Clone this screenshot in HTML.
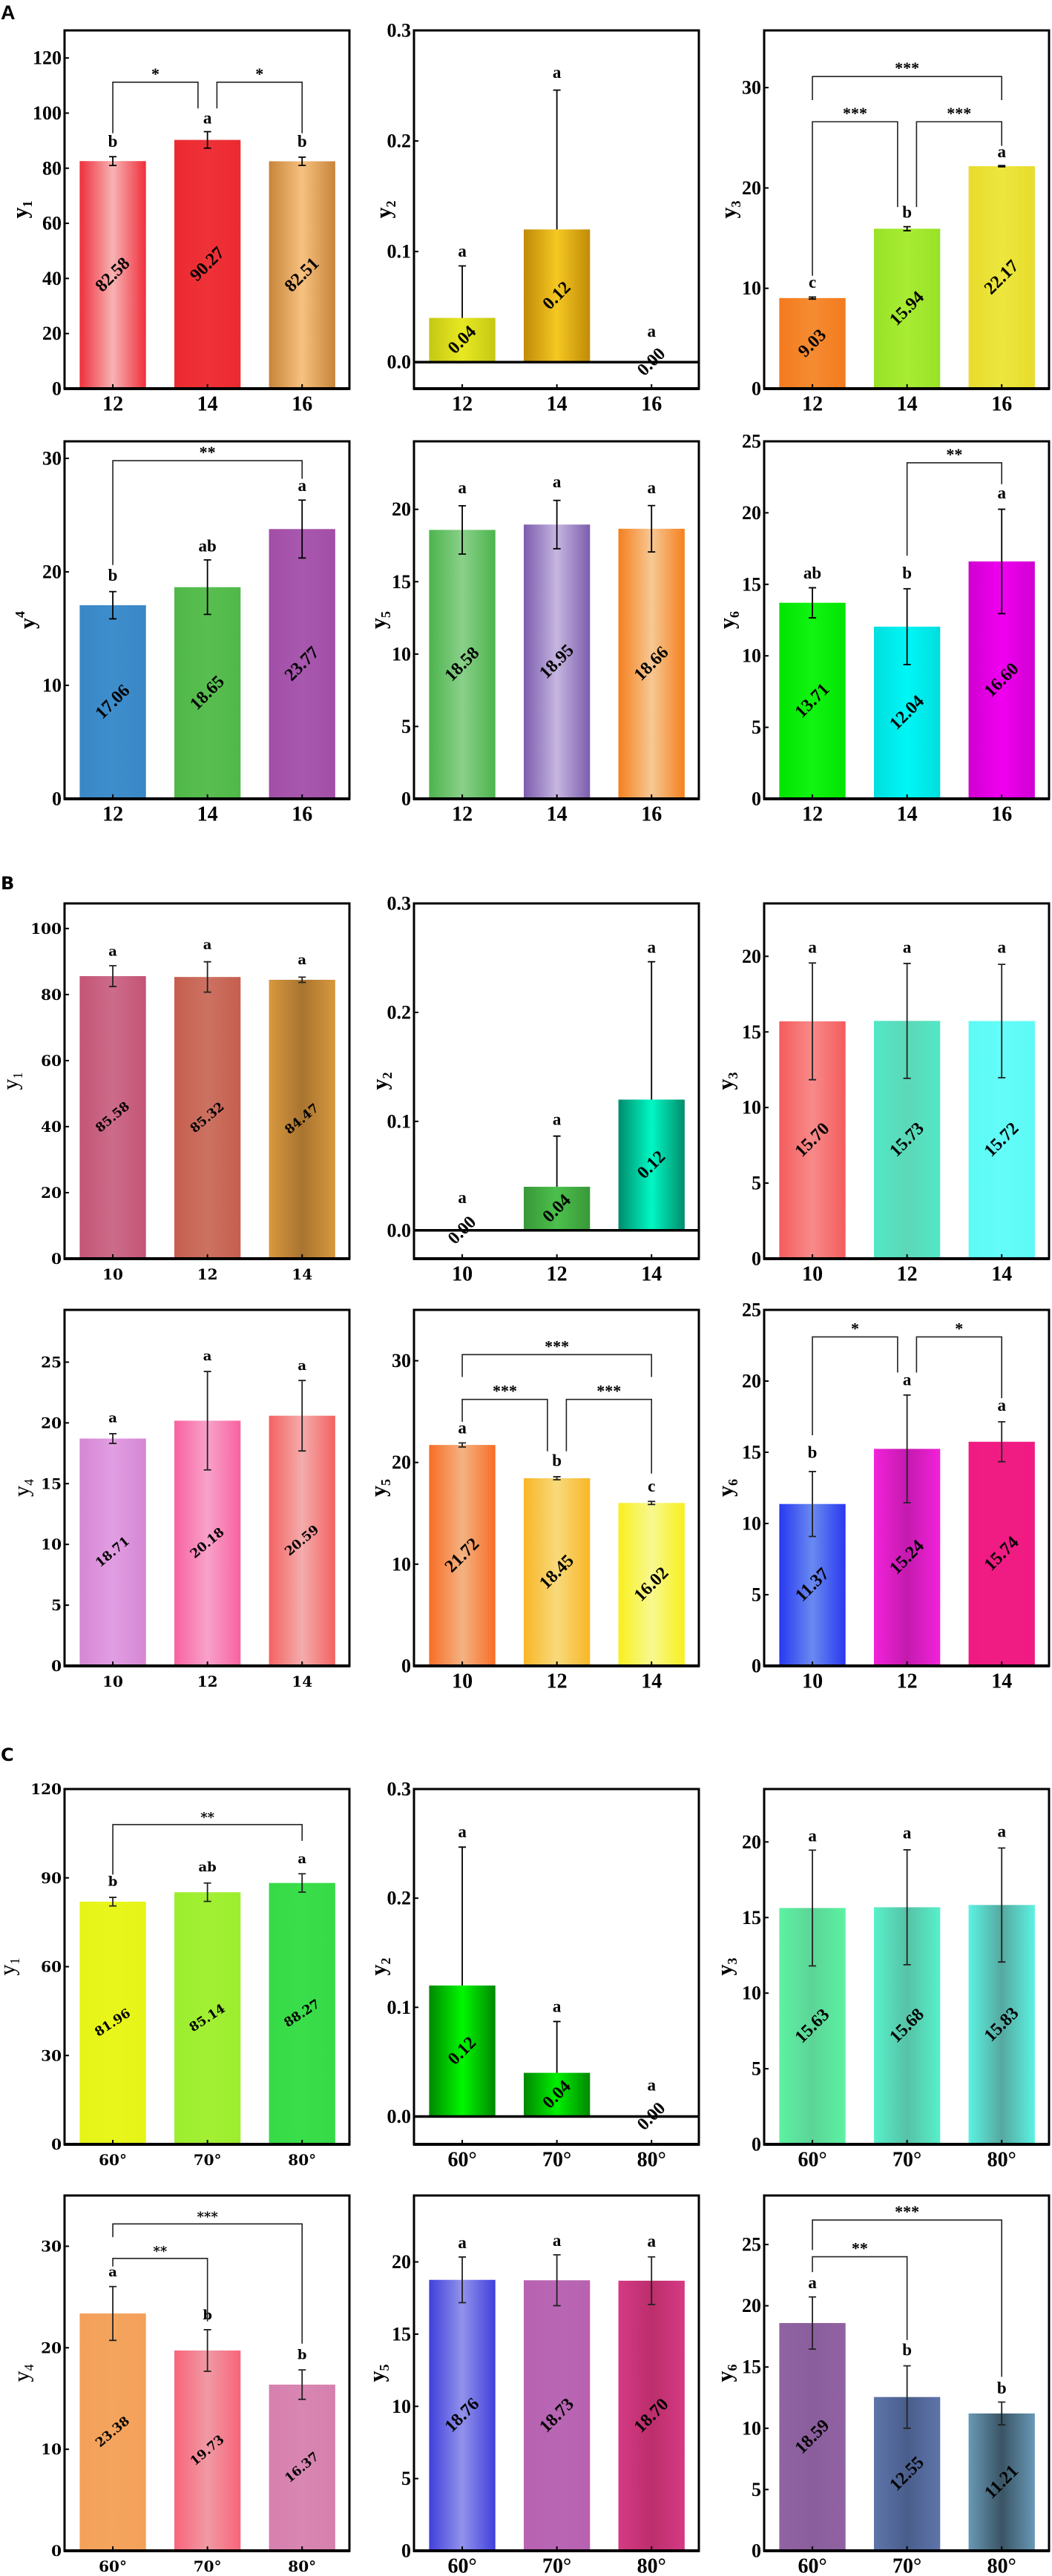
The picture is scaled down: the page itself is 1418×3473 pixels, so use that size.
<!DOCTYPE html>
<html><head><meta charset="utf-8"><style>
html,body{margin:0;padding:0;background:#fff;}
svg{display:block;}
text{font-family:'Liberation Serif',serif;}
</style></head><body>
<svg id="fig" xmlns="http://www.w3.org/2000/svg" width="1418" height="3473" viewBox="0 0 1418 3473">
<defs id="defs"></defs>
<text x="1" y="26" style="font-family:'Liberation Sans',sans-serif;font-weight:bold;font-size:27px">A</text>
<text x="1" y="1199" style="font-family:'DejaVu Sans',sans-serif;font-weight:bold;font-size:24px">B</text>
<text x="1" y="2374" style="font-family:'DejaVu Sans',sans-serif;font-weight:bold;font-size:24px">C</text>
</svg>
<script>
const catsA = ['12','14','16'];
const catsB = ['10','12','14'];
const catsC = ['60°','70°','80°'];

const a1Vals = [82.58, 90.27, 82.51];
const a1Errs = [1.6, 3.0, 1.5];
const a1Letters = ['b','a','b'];
const a1LetterY = [89.7, 98.2, 89.7];
const a1Brackets = [[0,1,111.2,92.7,101.7,'*'],[1,2,111.2,101.7,92.7,'*']];
const a1Ticks = [0,20,40,60,80,100,120];
const a1Domain = [0,130];

const a2Vals = [0.04, 0.12, 0.00];
const a2Errs = [0.047, 0.126, 0];
const a2Letters = ['a','a','a'];
const a2LetterY = [0.1005, 0.262, 0.028];
const a2Brackets = [];
const a2Ticks = [0,0.1,0.2,0.3];
const a2Domain = [-0.024,0.3];

const a3Vals = [9.03, 15.94, 22.17];
const a3Errs = [0.1, 0.2, 0.06];
const a3Letters = ['c','b','a'];
const a3LetterY = [10.6, 17.6, 23.6];
const a3Brackets = [[0,2,31.1,28.75,28.75,'***'],[0,1,26.6,11.25,18.1,'***'],[1,2,26.6,18.1,24.2,'***']];
const a3Ticks = [0,10,20,30];
const a3Domain = [0,35.7];

const a4Vals = [17.06, 18.65, 23.77];
const a4Errs = [1.2, 2.4, 2.55];
const a4Letters = ['b','ab','a'];
const a4LetterY = [19.7, 22.3, 27.6];
const a4Brackets = [[0,2,29.8,20.6,28.2,'**']];
const a4Ticks = [0,10,20,30];
const a4Domain = [0,31.5];

const a5Vals = [18.58, 18.95, 18.66];
const a5Errs = [1.67, 1.67, 1.6];
const a5Letters = ['a','a','a'];
const a5LetterY = [21.5, 21.9, 21.5];
const a5Brackets = [];
const a5Ticks = [0,5,10,15,20];
const a5Domain = [0,24.7];

const a6Vals = [13.71, 12.04, 16.60];
const a6Errs = [1.05, 2.65, 3.65];
const a6Letters = ['ab','b','a'];
const a6LetterY = [15.8, 15.8, 21.4];
const a6Brackets = [[1,2,23.5,17.0,22.0,'**']];
const a6Ticks = [0,5,10,15,20,25];
const a6Domain = [0,25];

const b1Vals = [85.58, 85.32, 84.47];
const b1Errs = [3.15, 4.6, 0.8];
const b1Letters = ['a','a','a'];
const b1LetterY = [93, 95, 90.4];
const b1Brackets = [];
const b1Ticks = [0,20,40,60,80,100];
const b1Domain = [0,107.6];

const b2Vals = [0.00, 0.04, 0.12];
const b2Errs = [0, 0.0465, 0.1265];
const b2Letters = ['a','a','a'];
const b2LetterY = [0.030, 0.102, 0.26];
const b2Brackets = [];
const b2Ticks = [0,0.1,0.2,0.3];
const b2Domain = [-0.026,0.3];

const b3Vals = [15.70, 15.73, 15.72];
const b3Errs = [3.86, 3.8, 3.75];
const b3Letters = ['a','a','a'];
const b3LetterY = [20.6, 20.6, 20.6];
const b3Brackets = [];
const b3Ticks = [0,5,10,15,20];
const b3Domain = [0,23.5];

const b4Vals = [18.71, 20.18, 20.59];
const b4Errs = [0.4, 4.05, 2.9];
const b4Letters = ['a','a','a'];
const b4LetterY = [20.4, 25.5, 24.7];
const b4Brackets = [];
const b4Ticks = [0,5,10,15,20,25];
const b4Domain = [0,29.3];

const b5Vals = [21.72, 18.45, 16.02];
const b5Errs = [0.2, 0.15, 0.15];
const b5Letters = ['a','b','c'];
const b5LetterY = [23.4, 20.2, 17.7];
const b5Brackets = [[0,2,30.6,28.4,28.4,'***'],[0,1,26.2,24.0,21.1,'***'],[1,2,26.2,21.1,18.9,'***']];
const b5Ticks = [0,10,20,30];
const b5Domain = [0,35];

const b6Vals = [11.37, 15.24, 15.74];
const b6Errs = [2.28, 3.78, 1.4];
const b6Letters = ['b','a','a'];
const b6LetterY = [15.0, 20.1, 18.3];
const b6Brackets = [[0,1,23.1,16.2,20.6,'*'],[1,2,23.1,20.6,18.8,'*']];
const b6Ticks = [0,5,10,15,20,25];
const b6Domain = [0,25];

const c1Vals = [81.96, 85.14, 88.27];
const c1Errs = [1.45, 3.1, 3.1];
const c1Letters = ['b','ab','a'];
const c1LetterY = [88.7, 93.6, 96.3];
const c1Brackets = [[0,2,108,91.1,102.5,'**']];
const c1Ticks = [0,30,60,90,120];
const c1Domain = [0,120];

const c2Vals = [0.12, 0.04, 0.00];
const c2Errs = [0.1268, 0.047, 0];
const c2Letters = ['a','a','a'];
const c2LetterY = [0.261, 0.101, 0.029];
const c2Brackets = [];
const c2Ticks = [0,0.1,0.2,0.3];
const c2Domain = [-0.0255,0.3];

const c3Vals = [15.63, 15.68, 15.83];
const c3Errs = [3.83, 3.8, 3.77];
const c3Letters = ['a','a','a'];
const c3LetterY = [20.4, 20.6, 20.7];
const c3Brackets = [];
const c3Ticks = [0,5,10,15,20];
const c3Domain = [0,23.5];

const c4Vals = [23.38, 19.73, 16.37];
const c4Errs = [2.65, 2.05, 1.45];
const c4Letters = ['a','b','b'];
const c4LetterY = [27.45, 23.2, 19.3];
const c4Brackets = [[0,2,32.2,30.9,20.4,'***'],[0,1,28.8,28.0,22.6,'**']];
const c4Ticks = [0,10,20,30];
const c4Domain = [0,35];

const c5Vals = [18.76, 18.73, 18.70];
const c5Errs = [1.58, 1.76, 1.65];
const c5Letters = ['a','a','a'];
const c5LetterY = [21.35, 21.5, 21.45];
const c5Brackets = [];
const c5Ticks = [0,5,10,15,20];
const c5Domain = [0,24.6];

const c6Vals = [18.59, 12.55, 11.21];
const c6Errs = [2.13, 2.55, 0.93];
const c6Letters = ['a','b','b'];
const c6LetterY = [21.9, 16.4, 13.3];
const c6Brackets = [[0,2,27.0,24.55,14.2,'***'],[0,1,24.0,22.75,17.2,'**']];
const c6Ticks = [0,5,10,15,20,25];
const c6Domain = [0,29];

const styleColors = {
 a1:[['#ef2f3c','#f7b3b3'],['#ec2a30','#ee3238'],['#c7853a','#f7c17f']],
 a2:[['#c4c814','#e8e822'],['#c08a08','#f5c822'],['#ffffff','#ffffff']],
 a3:[['#f47a1e','#f58c32'],['#98e228','#a8ec34'],['#e8dc2c','#ece63e']],
 a4:[['#3a86c6','#3e8ecc'],['#50b848','#58be50'],['#a24ea8','#a858ae']],
 a5:[['#4cb44c','#8ad08a'],['#7c5cae','#c6b6e0'],['#f5801e','#f6c894']],
 a6:[['#00e400','#12f412'],['#00dede','#00f6f6'],['#d000d0','#f000f0']],
 b1:[['#c45476','#cc6c8a'],['#c65e4e','#cc7262'],['#d8983e','#a87430']],
 b2:[['#ffffff','#ffffff'],['#389838','#4cc04c'],['#008c6c','#00f8c4']],
 b3:[['#f45c5c','#f88a8a'],['#52e8c6','#5cd8b8'],['#5cfaf6','#64fcf8']],
 b4:[['#d486d4','#e29ee2'],['#f862a0','#f8a2ca'],['#f46262','#f4acac']],
 b5:[['#f86e26','#f4b282'],['#f8b626','#f8da7c'],['#f8f01e','#f8f890']],
 b6:[['#2838f0','#6a8af0'],['#f222da','#c41aae'],['#f01a82','#f01c84']],
 c1:[['#e6f416','#e8f61c'],['#9cee2e','#a2f034'],['#36da46','#3ade4a']],
 c2:[['#008800','#00f800'],['#008800','#00f000'],['#ffffff','#ffffff']],
 c3:[['#5cf2a2','#5cd496'],['#58f0ca','#56c2a6'],['#5cf2e2','#56a8a0']],
 c4:[['#f4a05a','#f4a45e'],['#f8647a','#f09aa4'],['#d680ae','#d886b2']],
 c5:[['#4040dc','#9292ec'],['#b862b0','#b866b4'],['#d43a84','#bc2e6c']],
 c6:[['#9062a2','#8a5e9c'],['#5e74aa','#4a5e8c'],['#6898b6','#3a5464']]
};

const COLX = [87, 558, 1030];
const ROWS = [[41,524],[595,1077],[1218,1697],[1766,2246],[2412,2891],[2960,3439]];
const W = 384;

const panels = [
 {id:'a1',col:0,row:0,cats:catsA,vals:a1Vals,errs:a1Errs,letters:a1Letters,letterY:a1LetterY,brackets:a1Brackets,ticks:a1Ticks,domain:a1Domain,dec:0,t:'1',sup:false,tx:27,wide:false,rot:-45,ec:'#000'},
 {id:'a2',col:1,row:0,cats:catsA,vals:a2Vals,errs:a2Errs,letters:a2Letters,letterY:a2LetterY,brackets:a2Brackets,ticks:a2Ticks,domain:a2Domain,dec:1,t:'2',sup:false,tx:517,wide:false,rot:-45,ec:'#000',upper:true},
 {id:'a3',col:2,row:0,cats:catsA,vals:a3Vals,errs:a3Errs,letters:a3Letters,letterY:a3LetterY,brackets:a3Brackets,ticks:a3Ticks,domain:a3Domain,dec:0,t:'3',sup:false,tx:982,wide:false,rot:-45,ec:'#000'},
 {id:'a4',col:0,row:1,cats:catsA,vals:a4Vals,errs:a4Errs,letters:a4Letters,letterY:a4LetterY,brackets:a4Brackets,ticks:a4Ticks,domain:a4Domain,dec:0,t:'4',sup:true,tx:37,wide:false,rot:-45,ec:'#000'},
 {id:'a5',col:1,row:1,cats:catsA,vals:a5Vals,errs:a5Errs,letters:a5Letters,letterY:a5LetterY,brackets:a5Brackets,ticks:a5Ticks,domain:a5Domain,dec:0,t:'5',sup:false,tx:510,wide:false,rot:-45,ec:'#000'},
 {id:'a6',col:2,row:1,cats:catsA,vals:a6Vals,errs:a6Errs,letters:a6Letters,letterY:a6LetterY,brackets:a6Brackets,ticks:a6Ticks,domain:a6Domain,dec:0,t:'6',sup:false,tx:980,wide:false,rot:-45,ec:'#000'},
 {id:'b1',col:0,row:2,cats:catsB,vals:b1Vals,errs:b1Errs,letters:b1Letters,letterY:b1LetterY,brackets:b1Brackets,ticks:b1Ticks,domain:b1Domain,dec:0,t:'1',sup:false,tx:14,wide:true,rot:-40,ec:'#222'},
 {id:'b2',col:1,row:2,cats:catsB,vals:b2Vals,errs:b2Errs,letters:b2Letters,letterY:b2LetterY,brackets:b2Brackets,ticks:b2Ticks,domain:b2Domain,dec:1,t:'2',sup:false,tx:512,wide:false,rot:-45,ec:'#000',upper:true},
 {id:'b3',col:2,row:2,cats:catsB,vals:b3Vals,errs:b3Errs,letters:b3Letters,letterY:b3LetterY,brackets:b3Brackets,ticks:b3Ticks,domain:b3Domain,dec:0,t:'3',sup:false,tx:978,wide:false,rot:-45,ec:'#222'},
 {id:'b4',col:0,row:3,cats:catsB,vals:b4Vals,errs:b4Errs,letters:b4Letters,letterY:b4LetterY,brackets:b4Brackets,ticks:b4Ticks,domain:b4Domain,dec:0,t:'4',sup:false,tx:29,wide:true,rot:-40,ec:'#222'},
 {id:'b5',col:1,row:3,cats:catsB,vals:b5Vals,errs:b5Errs,letters:b5Letters,letterY:b5LetterY,brackets:b5Brackets,ticks:b5Ticks,domain:b5Domain,dec:0,t:'5',sup:false,tx:510,wide:false,rot:-45,ec:'#222'},
 {id:'b6',col:2,row:3,cats:catsB,vals:b6Vals,errs:b6Errs,letters:b6Letters,letterY:b6LetterY,brackets:b6Brackets,ticks:b6Ticks,domain:b6Domain,dec:0,t:'6',sup:false,tx:978,wide:false,rot:-45,ec:'#222'},
 {id:'c1',col:0,row:4,cats:catsC,vals:c1Vals,errs:c1Errs,letters:c1Letters,letterY:c1LetterY,brackets:c1Brackets,ticks:c1Ticks,domain:c1Domain,dec:0,t:'1',sup:false,tx:10,wide:true,rot:-33,ec:'#222'},
 {id:'c2',col:1,row:4,cats:catsC,vals:c2Vals,errs:c2Errs,letters:c2Letters,letterY:c2LetterY,brackets:c2Brackets,ticks:c2Ticks,domain:c2Domain,dec:1,t:'2',sup:false,tx:510,wide:false,rot:-45,ec:'#000',upper:true},
 {id:'c3',col:2,row:4,cats:catsC,vals:c3Vals,errs:c3Errs,letters:c3Letters,letterY:c3LetterY,brackets:c3Brackets,ticks:c3Ticks,domain:c3Domain,dec:0,t:'3',sup:false,tx:977,wide:false,rot:-45,ec:'#222'},
 {id:'c4',col:0,row:5,cats:catsC,vals:c4Vals,errs:c4Errs,letters:c4Letters,letterY:c4LetterY,brackets:c4Brackets,ticks:c4Ticks,domain:c4Domain,dec:0,t:'4',sup:false,tx:29,wide:true,rot:-40,ec:'#222'},
 {id:'c5',col:1,row:5,cats:catsC,vals:c5Vals,errs:c5Errs,letters:c5Letters,letterY:c5LetterY,brackets:c5Brackets,ticks:c5Ticks,domain:c5Domain,dec:0,t:'5',sup:false,tx:508,wide:false,rot:-45,ec:'#222'},
 {id:'c6',col:2,row:5,cats:catsC,vals:c6Vals,errs:c6Errs,letters:c6Letters,letterY:c6LetterY,brackets:c6Brackets,ticks:c6Ticks,domain:c6Domain,dec:0,t:'6',sup:false,tx:977,wide:false,rot:-45,ec:'#222'}
];

const NS = 'http://www.w3.org/2000/svg';
const svg = document.getElementById('fig');
const defs = document.getElementById('defs');
const SERIF = "'Liberation Serif', serif";
const WIDE = "'DejaVu Serif', serif";

function mk(tag, attrs, parent) {
  const e = document.createElementNS(NS, tag);
  for (const k in attrs) e.setAttribute(k, attrs[k]);
  parent.appendChild(e);
  return e;
}
function fstyle(family, size, weight) {
  return 'font-family:' + family + ';font-size:' + size + 'px;font-weight:' + weight + ';';
}

panels.forEach(p => {
  const x0 = COLX[p.col], yTop = ROWS[p.row][0], yBot = ROWS[p.row][1];
  const d0 = p.domain[0], d1 = p.domain[1];
  const ys = v => yBot - (v - d0) / (d1 - d0) * (yBot - yTop);
  const xs = i => x0 + (i + 0.51) / 3.01 * W;
  const bw = 0.7 / 3.01 * W;
  const font = p.wide ? WIDE : SERIF;
  const g = mk('g', {}, svg);
  
  

  p.vals.forEach((v, i) => {
    const gid = 'grad-' + p.id + '-' + i;
    const lg = mk('linearGradient', {id: gid, x1: 0, x2: 1, y1: 0, y2: 0}, defs);
    const c = styleColors[p.id][i];
    mk('stop', {offset: '0', 'stop-color': c[0]}, lg);
    mk('stop', {offset: '0.5', 'stop-color': c[1]}, lg);
    mk('stop', {offset: '1', 'stop-color': c[0]}, lg);
    const top = ys(Math.max(v, 0)), base = ys(d0 < 0 ? 0 : d0);
    const r = mk('rect', {x: xs(i) - bw / 2, y: top, width: bw, height: Math.max(0, base - top), fill: 'url(#' + gid + ')'}, g);
    
    
  });

  const fr = mk('rect', {x: x0, y: yTop, width: W, height: yBot - yTop, fill: 'none', stroke: '#000', 'stroke-width': 3}, g);
  
  
  mk('line', {x1: x0 - 1, x2: x0 + W + 1, y1: yBot, y2: yBot, stroke: '#000', 'stroke-width': 4}, g);
  if (d0 < 0) {
    const zl = mk('line', {x1: x0, x2: x0 + W, y1: ys(0), y2: ys(0), stroke: '#000', 'stroke-width': 3.5}, g);
    
    
  }

  p.ticks.forEach(t => {
    const y = ys(t);
    mk('line', {x1: x0, x2: x0 + 6, y1: y, y2: y, stroke: '#000', 'stroke-width': 2}, g);
    const tl = mk('text', {x: x0 - 4, y: y, 'text-anchor': 'end', 'dominant-baseline': 'central', style: fstyle(font, p.wide ? 20 : 26, 'bold')}, g);
    tl.textContent = t.toFixed(p.dec);
    
    
  });

  p.cats.forEach((c, i) => {
    mk('line', {x1: xs(i), x2: xs(i), y1: yBot, y2: yBot - 6, stroke: '#000', 'stroke-width': 2}, g);
    const xl = mk('text', {x: xs(i), y: yBot + 21, 'text-anchor': 'middle', 'dominant-baseline': 'central', style: fstyle(font, p.wide ? 20 : 28, 'bold')}, g);
    xl.textContent = c;
    
    
  });

  const ym = (yTop + yBot) / 2;
  const tt = mk('text', {x: p.tx, y: ym, 'text-anchor': 'middle', 'dominant-baseline': 'central', transform: 'rotate(-90 ' + p.tx + ' ' + ym + ')', style: fstyle(SERIF, 30, p.wide ? 'normal' : 'bold')}, g);
  
  
  tt.appendChild(document.createTextNode('y'));
  const sub = mk('tspan', {'baseline-shift': p.sup ? 'super' : 'sub', style: 'font-size:18px'}, tt);
  sub.textContent = p.t;

  p.errs.forEach((e, i) => {
    if (!e) return;
    const v = p.vals[i], x = xs(i);
    const hi = ys(v + e), lo = p.upper ? ys(v) : ys(v - e);
    const eb = mk('path', {d: 'M' + x + ' ' + lo + 'V' + hi + 'M' + (x - 5) + ' ' + hi + 'H' + (x + 5) + (p.upper ? '' : 'M' + (x - 5) + ' ' + lo + 'H' + (x + 5)), stroke: p.ec, 'stroke-width': 1.8, fill: 'none'}, g);
    
    
  });

  p.vals.forEach((v, i) => {
    const x = xs(i), y = ys(v / 2);
    const vl = mk('text', {x: x, y: y, 'text-anchor': 'middle', 'dominant-baseline': 'central', transform: 'rotate(' + p.rot + ' ' + x + ' ' + y + ')', style: fstyle(font, p.wide ? 17 : 24, 'bold')}, g);
    vl.textContent = v.toFixed(2);
    
    
  });

  p.letters.forEach((l, i) => {
    const lt = mk('text', {x: xs(i), y: ys(p.letterY[i]), 'text-anchor': 'middle', 'dominant-baseline': 'central', style: fstyle(font, p.wide ? 18 : 23, 'bold')}, g);
    lt.textContent = l;
    
    
  });

  p.brackets.forEach(b => {
    let xa = b[0], xb = b[1];
    p.brackets.forEach(o => {
      if (o === b || Math.abs(o[2] - b[2]) > 0.01) return;
      if (b[1] - b[0] === 1 && o[1] - o[0] === 1) {
        if (o[0] === b[1]) xb -= 0.1;
        if (o[1] === b[0]) xa += 0.1;
      }
    });
    const X1 = xs(xa), X2 = xs(xb), Yt = ys(b[2]);
    const br = mk('path', {d: 'M' + X1 + ' ' + ys(b[3]) + 'V' + Yt + 'H' + X2 + 'V' + ys(b[4]), stroke: '#222', 'stroke-width': 1.6, fill: 'none'}, g);
    
    
    const st = mk('text', {x: (X1 + X2) / 2, y: Yt - 4, 'text-anchor': 'middle', style: fstyle(font, p.wide ? 18 : 22, 'bold')}, g);
    st.textContent = b[5];
    
    
  });
});
</script>
</body></html>
